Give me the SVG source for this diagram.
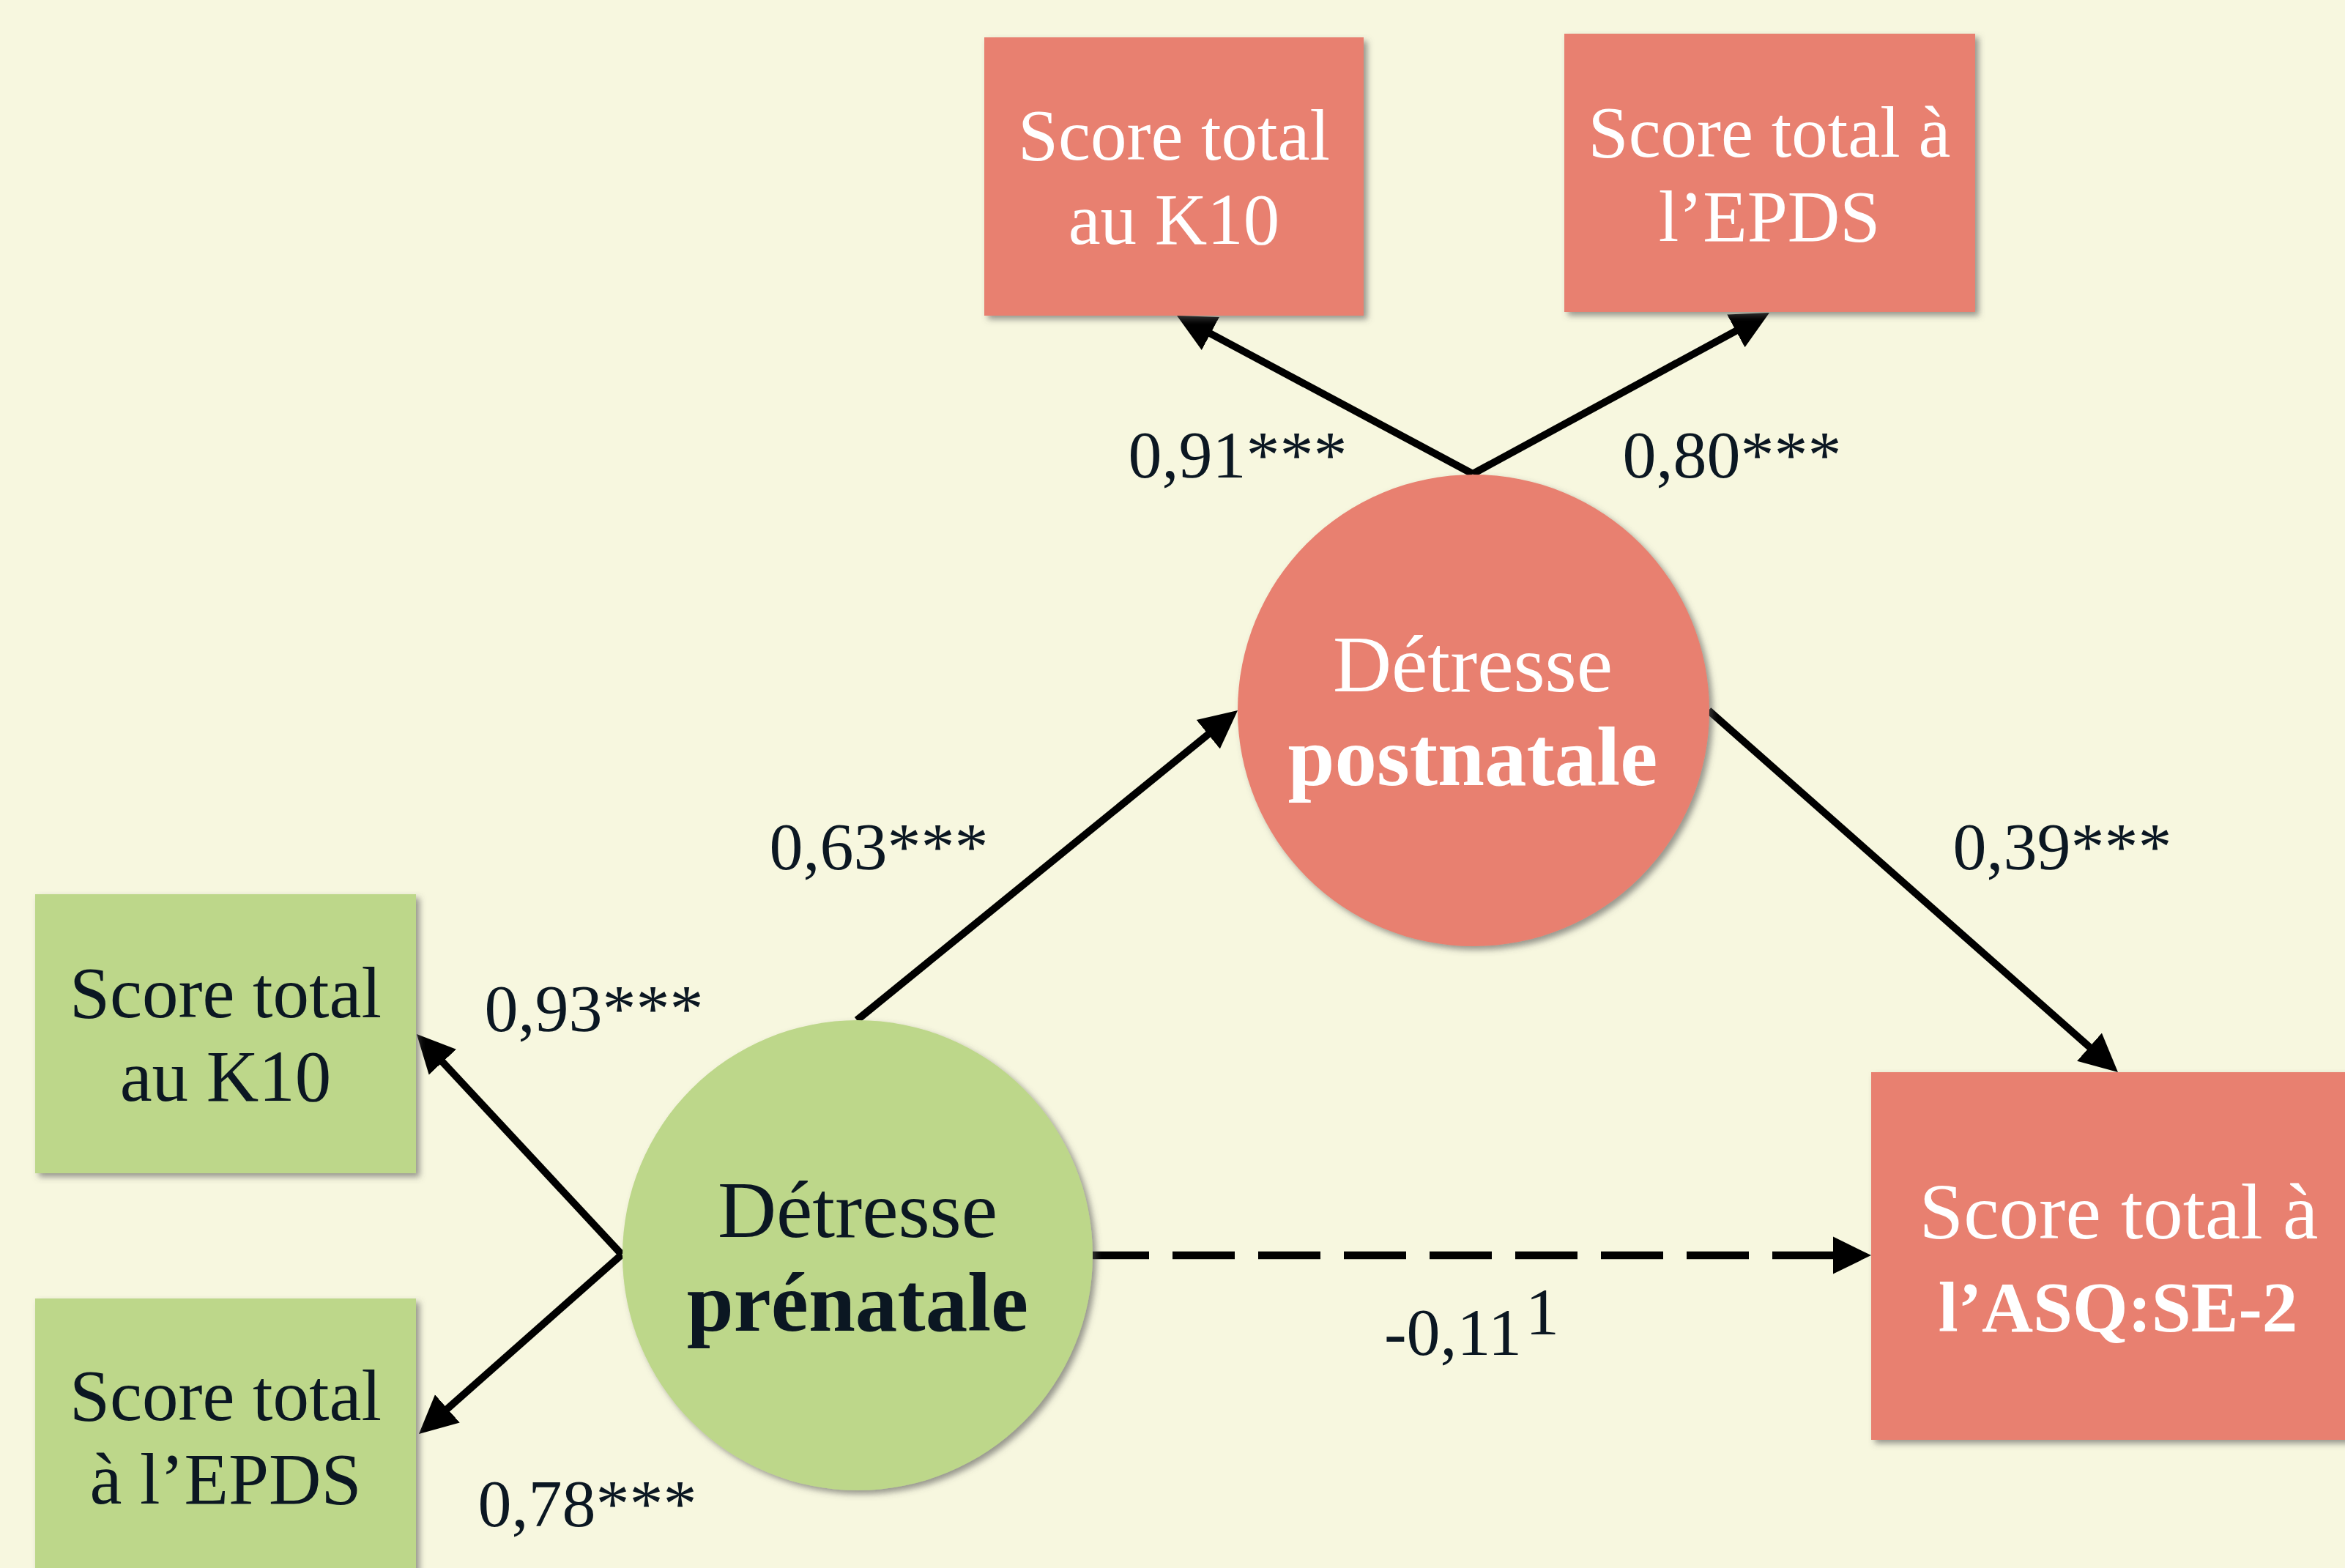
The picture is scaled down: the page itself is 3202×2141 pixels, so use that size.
<svg xmlns="http://www.w3.org/2000/svg" width="3202" height="2141" viewBox="0 0 3202 2141">
<style>
.bg{fill:#F7F7DF}
.red{fill:#E8806F;filter:url(#sh)}
.green{fill:#BDD78A;filter:url(#sh)}
.nt{font-family:"Liberation Serif","Times New Roman",serif;text-anchor:middle}
.w{fill:#FFFFFF}
.k{fill:#0B1722}
.box{font-size:99px}
.reg{font-size:111px}
.bold{font-size:115px;font-weight:bold}
.lbl{font-family:"Liberation Serif","Times New Roman",serif;font-size:92px;fill:#0B1722;text-anchor:middle}
.edge{stroke:#000;stroke-width:10;fill:none;marker-end:url(#ah)}
.dash{stroke-dasharray:85 32;stroke-dashoffset:8;stroke-width:10.5}
</style>
<defs>
<filter id="sh" x="-10%" y="-10%" width="125%" height="125%">
<feDropShadow dx="5" dy="5" stdDeviation="4" flood-color="#555" flood-opacity="0.6"/>
</filter>
<marker id="ah" markerUnits="userSpaceOnUse" markerWidth="52" markerHeight="52" refX="12" refY="26" orient="auto" viewBox="0 0 52 52">
<path d="M0,0.5 L52,26 L0,51.5 Z" fill="#000"/>
</marker>
</defs>
<rect class="bg" x="0" y="0" width="3202" height="2141"/>

<g id="connectors">
<path class="edge" d="M2011,647 L1642.3,449.9"/>
<path class="edge" d="M2011,647 L2380.9,446.1"/>
<path class="edge" d="M1170,1393 L1659,995.2"/>
<path class="edge" d="M2333,970 L2862,1437.5"/>
<path class="edge" d="M849,1713 L596.2,1441.3"/>
<path class="edge" d="M849,1713 L601.9,1931.4"/>
<path class="edge dash" d="M1492,1714 L2515,1714"/>
</g>

<g id="pre-k10">
<rect class="green" x="48" y="1221" width="520" height="381"/>
<text class="nt k box" x="308" y="1389">Score total</text>
<text class="nt k box" x="308" y="1503">au K10</text>
</g>
<g id="pre-epds">
<rect class="green" x="48" y="1773" width="520" height="420"/>
<text class="nt k box" x="308" y="1939">Score total</text>
<text class="nt k box" x="308" y="2053">à l’EPDS</text>
</g>
<g id="post-k10">
<rect class="red" x="1344" y="51" width="518" height="380"/>
<text class="nt w box" x="1603" y="218">Score total</text>
<text class="nt w box" x="1603" y="333">au K10</text>
</g>
<g id="post-epds">
<rect class="red" x="2136" y="46" width="561" height="380"/>
<text class="nt w box" x="2416" y="214">Score total à</text>
<text class="nt w box" x="2416" y="329">l’EPDS</text>
</g>
<g id="postnatale">
<circle class="red" cx="2012" cy="970" r="322"/>
<text class="nt w reg" x="2011" y="944">Détresse</text>
<text class="nt w bold" x="2011" y="1072">postnatale</text>
</g>
<g id="prenatale">
<circle class="green" cx="1171" cy="1714" r="321"/>
<text class="nt k reg" x="1171" y="1689">Détresse</text>
<text class="nt k bold" x="1171" y="1817">prénatale</text>
</g>
<g id="asq">
<rect class="red" x="2555" y="1464" width="680" height="502"/>
<text class="nt w" x="2893" y="1691" font-size="109">Score total à</text>
<text class="nt w" x="2892" y="1818" font-size="97" font-weight="bold">l’ASQ:SE-2</text>
</g>

<g id="labels">
<text class="lbl" x="1690" y="652">0,91***</text>
<text class="lbl" x="2365" y="652">0,80***</text>
<text class="lbl" x="1200" y="1187">0,63***</text>
<text class="lbl" x="2816" y="1187">0,39***</text>
<text class="lbl" x="811" y="1408">0,93***</text>
<text class="lbl" x="802" y="2084">0,78***</text>
<text class="lbl" x="1984" y="1850" font-size="96">-0,11</text>
<text class="lbl" x="2106" y="1822" font-size="62">1</text>
</g>
</svg>
